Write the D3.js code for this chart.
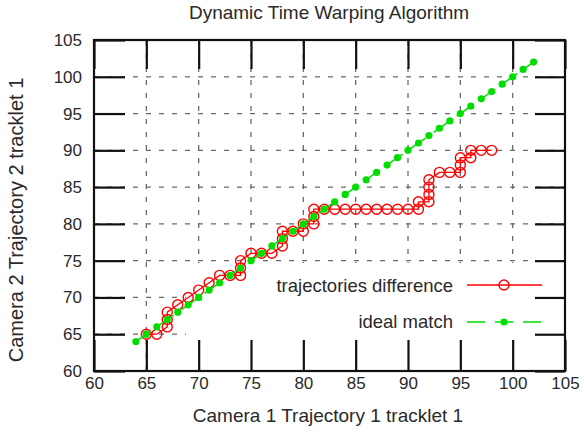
<!DOCTYPE html>
<html><head><meta charset="utf-8">
<script src="https://cdn.jsdelivr.net/npm/d3@7"></script>
<style>
body{margin:0;background:#fff;}
svg{display:block;font-family:"Liberation Sans",Arial,Helvetica,sans-serif;}
</style></head>
<body>
<svg id="c" width="584" height="433"></svg>
<script>
// ---- data ----
const titleText = "Dynamic Time Warping Algorithm";
const xLabelText = "Camera 1 Trajectory 1 tracklet 1";
const yLabelText = "Camera 2 Trajectory 2 tracklet 1";
const xTicks = [60,65,70,75,80,85,90,95,100,105];
const yTicks = [60,65,70,75,80,85,90,95,100,105];
const seriesNames = ["trajectories difference","ideal match"];
// DTW path (red)
const diffX = [65,66,67,67,67,68,69,70,71,72,73,74,74,74,75,76,77,78,78,78,79,80,80,81,81,81,82,83,84,85,86,87,88,89,90,91,91,92,92,92,92,93,94,95,95,95,96,96,97,98];
const diffY = [65,65,66,67,68,69,70,71,72,73,73,73,74,75,76,76,76,77,78,79,79,79,80,80,81,82,82,82,82,82,82,82,82,82,82,82,83,83,84,85,86,87,87,87,88,89,89,90,90,90];
// ideal match (green)
const idealX = [64,65,66,67,68,69,70,71,72,73,74,75,76,77,78,79,80,81,82,83,84,85,86,87,88,89,90,91,92,93,94,95,96,97,98,99,100,101,102];
const idealY = [64,65,66,67,68,69,70,71,72,73,74,75,76,77,78,79,80,81,82,83,84,85,86,87,88,89,90,91,92,93,94,95,96,97,98,99,100,101,102];

// ---- layout ----
const L=94, R=565, T=40, B=371;
const red="#ff0000", green="#00dd00", ink="#2a2a2a";
const svg=d3.select("#c");
const x=d3.scaleLinear().domain([60,105]).range([L,R]);
const y=d3.scaleLinear().domain([60,105]).range([B,T]);

// grid
const g=svg.append("g").attr("stroke","#6a6a6a").attr("stroke-width",1.3).attr("stroke-dasharray","5,8");
xTicks.slice(1,-1).forEach(v=>g.append("line").attr("x1",x(v)).attr("x2",x(v)).attr("y1",B).attr("y2",T));
yTicks.slice(1,-1).forEach(v=>g.append("line").attr("y1",y(v)).attr("y2",y(v)).attr("x1",L).attr("x2",R));

// opaque key area
svg.append("rect").attr("x",186).attr("y",263).attr("width",R-186).attr("height",B-263).attr("fill","#fff");

// axes with inward ticks
function styleAx(sel){sel.select(".domain").remove();sel.selectAll(".tick line").attr("stroke","#111").attr("stroke-width",2.2);
  sel.selectAll("text").attr("fill",ink).style("font-size","17px").style("font-family","Liberation Sans, Arial, sans-serif");}
svg.append("g").attr("transform",`translate(0,${B})`).call(d3.axisBottom(x).tickValues(xTicks).tickSize(-31).tickPadding(6)).call(styleAx);
svg.append("g").attr("transform",`translate(0,${T})`).call(d3.axisTop(x).tickValues(xTicks).tickSize(-29).tickFormat("")).call(styleAx);
svg.append("g").attr("transform",`translate(${L},0)`).call(d3.axisLeft(y).tickValues(yTicks).tickSize(-31).tickPadding(12)).call(styleAx);
svg.append("g").attr("transform",`translate(${R},0)`).call(d3.axisRight(y).tickValues(yTicks).tickSize(-30).tickFormat("")).call(styleAx);
svg.append("rect").attr("x",L).attr("y",T).attr("width",R-L).attr("height",B-T).attr("fill","none").attr("stroke","#111").attr("stroke-width",2.2);

// red series
const diff=diffX.map((v,i)=>[v,diffY[i]]);
const ideal=idealX.map((v,i)=>[v,idealY[i]]);
const line=d3.line().x(d=>x(d[0])).y(d=>y(d[1]));
svg.append("path").attr("d",line(diff)).attr("fill","none").attr("stroke",red).attr("stroke-width",1.3);
svg.append("g").selectAll("circle").data(diff).join("circle")
  .attr("cx",d=>x(d[0])).attr("cy",d=>y(d[1])).attr("r",5).attr("fill","none").attr("stroke",red).attr("stroke-width",1.4);
// green series
svg.append("path").attr("d",line(ideal)).attr("fill","none").attr("stroke",green).attr("stroke-width",1.5).attr("stroke-dasharray","18,10");
svg.append("g").selectAll("circle").data(ideal).join("circle")
  .attr("cx",d=>x(d[0])).attr("cy",d=>y(d[1])).attr("r",3.6).attr("fill",green);

// legend
const lg=svg.append("g");
lg.append("text").attr("x",453).attr("y",292).attr("text-anchor","end").attr("fill",ink).style("font-size","18.5px").text(seriesNames[0]);
lg.append("line").attr("x1",467).attr("x2",542).attr("y1",285).attr("y2",285).attr("stroke",red).attr("stroke-width",1.3);
lg.append("circle").attr("cx",504).attr("cy",285).attr("r",5).attr("fill","none").attr("stroke",red).attr("stroke-width",1.4);
lg.append("text").attr("x",453).attr("y",328).attr("text-anchor","end").attr("fill",ink).style("font-size","18.5px").text(seriesNames[1]);
lg.append("line").attr("x1",467).attr("x2",542).attr("y1",322).attr("y2",322).attr("stroke",green).attr("stroke-width",1.5).attr("stroke-dasharray","18,10");
lg.append("circle").attr("cx",504).attr("cy",322).attr("r",3.6).attr("fill",green);

// titles
svg.append("text").attr("x",329).attr("y",19).attr("text-anchor","middle").attr("fill",ink).style("font-size","19px").text(titleText);
svg.append("text").attr("x",328).attr("y",422).attr("text-anchor","middle").attr("fill",ink).style("font-size","19px").text(xLabelText);
svg.append("text").attr("transform","translate(23,220) rotate(-90)").attr("text-anchor","middle").attr("fill",ink).style("font-size","20px").text(yLabelText);
</script>
</body></html>
